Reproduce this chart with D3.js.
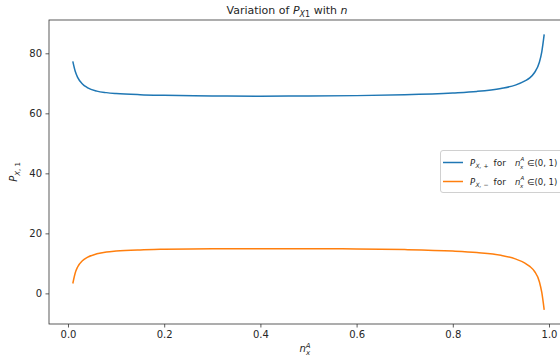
<!DOCTYPE html>
<html><head><meta charset="utf-8">
<script src="https://cdn.jsdelivr.net/npm/d3@7"></script>
<style>
body{margin:0;background:#fff;overflow:hidden}
text{font-family:"DejaVu Sans",sans-serif;fill:#262626}
</style></head><body>
<svg id="c" width="560" height="362"></svg>
<script>
const nx = [0.01,0.015,0.02,0.03,0.04,0.06,0.08,0.1,0.15,0.2,0.3,0.4,0.5,0.6,0.7,0.8,0.85,0.9,0.93,0.95,0.96,0.97,0.98,0.985,0.99];
const pPlus = [77.3,74.0,72.0,69.8,68.6,67.4,66.9,66.6,66.2,66.0,65.8,65.7,65.8,65.9,66.2,66.8,67.3,68.3,69.4,70.8,71.8,73.6,77.0,80.5,86.3];
const pMinus = [3.3,6.8,8.8,10.9,12.0,13.2,13.8,14.1,14.5,14.7,14.9,14.9,14.9,14.8,14.6,14.1,13.6,12.7,11.5,10.1,9.0,7.3,3.9,0.3,-5.5];
const xTicks = [0,0.2,0.4,0.6,0.8,1.0];
const yTicks = [0,20,40,60,80];

const svg = d3.select("#c");
const L=49,R=568,T=20,B=324;
const x = d3.scaleLinear().domain([-0.0395,1.0395]).range([L,R]);
const y = d3.scaleLinear().domain([-10.2,91.1]).range([B,T]);

const line = d3.line().curve(d3.curveMonotoneX);
svg.append("path").attr("d", line(nx.map((v,i)=>[x(v),y(pPlus[i])])))
  .attr("fill","none").attr("stroke","#1f77b4").attr("stroke-width",1.5);
svg.append("path").attr("d", line(nx.map((v,i)=>[x(v),y(pMinus[i])])))
  .attr("fill","none").attr("stroke","#ff7f0e").attr("stroke-width",1.5);

const xa = svg.append("g").attr("transform",`translate(0,${B})`)
  .call(d3.axisBottom(x).tickValues(xTicks).tickFormat(d3.format(".1f")).tickSize(3.5).tickPadding(3.5));
const ya = svg.append("g").attr("transform",`translate(${L},0)`)
  .call(d3.axisLeft(y).tickValues(yTicks).tickSize(3.5).tickPadding(3.5));
[xa,ya].forEach(g=>{
  g.select(".domain").remove();
  g.selectAll("line").attr("stroke","#333").attr("stroke-width",0.8);
  g.selectAll("text").style("font-size","10px").attr("fill","#262626").style("font-family","DejaVu Sans");
});
// spines
svg.append("rect").attr("x",L).attr("y",T).attr("width",R-L).attr("height",B-T)
  .attr("fill","none").attr("stroke","#333").attr("stroke-width",0.8);

// title
const t = svg.append("text").attr("x",287).attr("y",14).attr("text-anchor","middle").style("font-size","11px");
t.append("tspan").text("Variation of ");
t.append("tspan").attr("font-style","italic").text("P");
t.append("tspan").attr("font-style","italic").attr("dy",2.5).style("font-size","8px").text("X");
t.append("tspan").style("font-size","8px").text("1");
t.append("tspan").attr("dy",-2.5).text(" with ");
t.append("tspan").attr("font-style","italic").text("n");

// x label
const xl = svg.append("text").attr("x",305).attr("y",352).attr("text-anchor","middle").style("font-size","10px");
xl.append("tspan").attr("font-style","italic").text("n");
xl.append("tspan").attr("font-style","italic").attr("dy",-4).style("font-size","7px").text("A");
xl.append("tspan").attr("font-style","italic").attr("dy",6.5).attr("dx",-4.5).style("font-size","7px").text("x");

// y label
const yl = svg.append("text").attr("transform","translate(17,172) rotate(-90)").attr("text-anchor","middle").style("font-size","10px");
yl.append("tspan").attr("font-style","italic").text("P");
yl.append("tspan").attr("dy",2.5).style("font-size","7px").attr("font-style","italic").text("X");
yl.append("tspan").attr("font-style","normal").style("font-size","7px").text(", 1");

// legend
const lg = svg.append("g");
lg.append("rect").attr("x",440.5).attr("y",150.5).attr("width",124).attr("height",42).attr("rx",2.5)
  .attr("fill","#fff").attr("fill-opacity",0.8).attr("stroke","#d0d0d0").attr("stroke-width",1);
const entries = [{c:"#1f77b4",s:"+"},{c:"#ff7f0e",s:"\u2212"}];
entries.forEach((e,i)=>{
  const yy = 162.5 + i*19;
  const by = yy+3;
  lg.append("line").attr("x1",443).attr("x2",463).attr("y1",yy).attr("y2",yy).attr("stroke",e.c).attr("stroke-width",1.5);
  const tx = lg.append("text").attr("y",by).style("font-size","8.5px");
  tx.append("tspan").attr("x",470).attr("y",by).attr("font-style","italic").text("P");
  tx.append("tspan").attr("x",475.5).attr("y",by+2.5).attr("font-style","italic").style("font-size","6px").text("X,");
  tx.append("tspan").attr("y",by+2.5).style("font-size","6px").text(" "+e.s);
  tx.append("tspan").attr("x",493.5).attr("y",by).style("font-size","9px").text("for");
  tx.append("tspan").attr("x",515).attr("y",by).attr("font-style","italic").text("n");
  tx.append("tspan").attr("x",520.5).attr("y",by-4.5).attr("font-style","italic").style("font-size","5.5px").text("A");
  tx.append("tspan").attr("x",520).attr("y",by+3).attr("font-style","italic").style("font-size","5.5px").text("x");
  tx.append("tspan").attr("x",527).attr("y",by).text("\u2208(0, 1)");
});
</script></body></html>
